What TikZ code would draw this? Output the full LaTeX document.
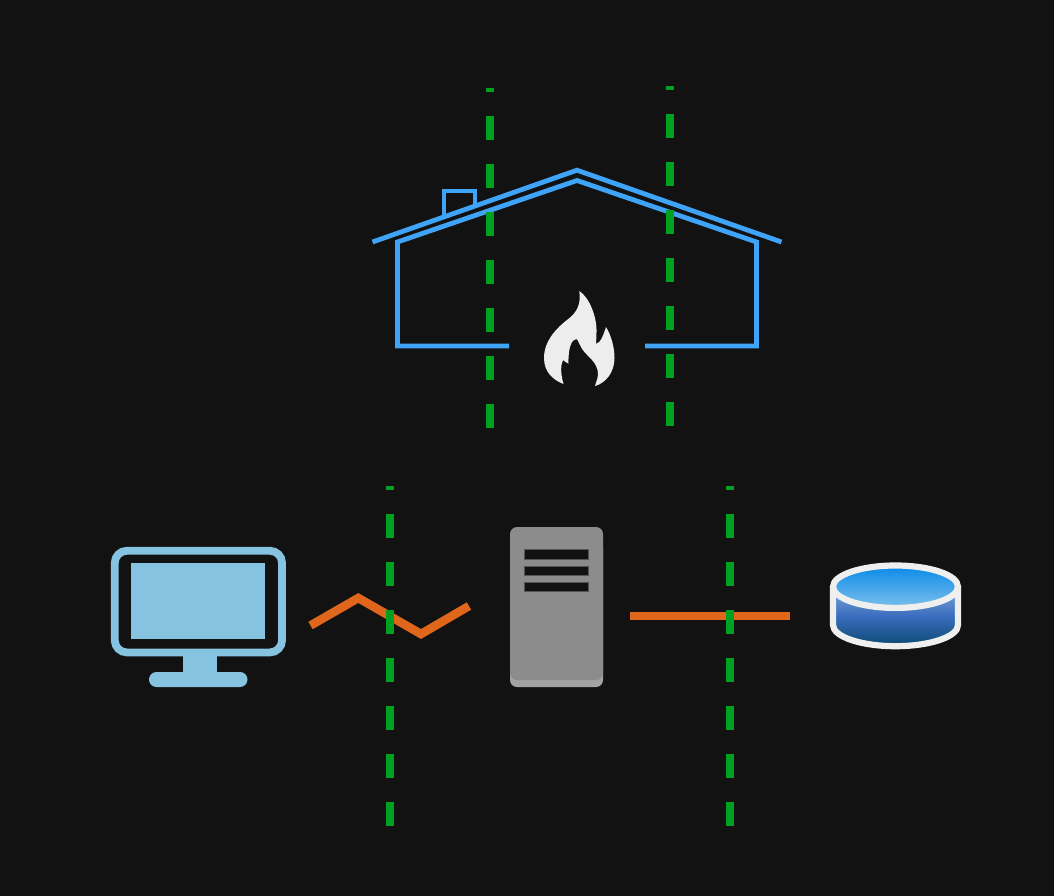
\documentclass[tikz,border=0pt]{standalone}
\definecolor{bgc}{HTML}{121212}
\definecolor{wallc}{HTML}{3FA4F8}
\definecolor{wirec}{HTML}{00A020}
\definecolor{linkc}{HTML}{E0661C}
\definecolor{pcc}{HTML}{85C3E1}
\definecolor{flamec}{HTML}{EDEDED}
\definecolor{srvc}{HTML}{8C8C8C}
\definecolor{srvb}{HTML}{A3A3A3}
\definecolor{dbw}{HTML}{EFEFEF}
\tikzset{
  zone/.style={draw=wirec,line width=8pt,dash pattern=on 24pt off 24pt},
  house/.style={draw=wallc,line width=4.8pt,line join=miter},
  linkline/.style={draw=linkc,line width=8.6pt,line join=miter},
  srvslot/.style={fill=bgc,draw=black!40!srvc,line width=.5pt},
}
\begin{document}
\begin{tikzpicture}[x=1pt,y=-1pt]
\fill[bgc] (0,0) rectangle (1054,896);
\useasboundingbox (0,0) rectangle (1054,896);
% links
\coordinate (l1) at (310.5,625.5);
\coordinate (l2) at (358.3,598);
\coordinate (l3) at (421,634);
\coordinate (l4) at (469,606);
\draw[linkline] (l1) -- (l2) -- (l3) -- (l4);
\coordinate (m1) at (630,616);
\coordinate (m2) at (790,616);
\draw[linkline] (m1) -- (m2);
% house
\draw[house] (509,346) -- (397.5,346) -- (397.5,242) -- (577,180.5) -- (756.5,242) -- (756.5,346) -- (645,346);
\draw[house] (372.5,242) -- (577,170.2) -- (781.5,242);
\draw[house] (444,216.5) -- (444,191) -- (475,191) -- (475,206);
% flame
\fill[flamec] (579.3,291)
  .. controls (590,298) and (597,318) .. (596.5,332)
  .. controls (596.5,338) and (596,342) .. (596,344)
  .. controls (601,343) and (604,333) .. (606,327)
  .. controls (611,335) and (614.5,347) .. (614.5,358)
  .. controls (614.5,372) and (606,383) .. (595,386)
  .. controls (597,379) and (599,376) .. (597.5,370)
  .. controls (595,359) and (584,355) .. (580,345)
  .. controls (578,342) and (578,339) .. (576.5,339)
  .. controls (572,339) and (568,347) .. (568.5,363.5)
  .. controls (566,364) and (566,361) .. (563,360)
  .. controls (561,364) and (560,372) .. (563.5,384)
  .. controls (553,380) and (544,372) .. (544,358)
  .. controls (544,340) and (558,327) .. (567,320)
  .. controls (578,312) and (581,303) .. (579.3,291) -- cycle;
% zone lines
\coordinate (a1) at (490,428); \coordinate (a2) at (490,88);
\coordinate (b1) at (670,426); \coordinate (b2) at (670,86);
\coordinate (c1) at (390,826); \coordinate (c2) at (390,486);
\coordinate (d1) at (730,826); \coordinate (d2) at (730,486);
\draw[zone] (a1) -- (a2);
\draw[zone] (b1) -- (b2);
\draw[zone] (c1) -- (c2);
\draw[zone] (d1) -- (d2);
% monitor
\draw[pcc,line width=7.8pt,rounded corners=12pt] (114.8,550.8) rectangle (282,652.4);
\fill[pcc] (131.3,563) rectangle (264.7,639);
\fill[pcc] (183,655) rectangle (217,673);
\fill[pcc,rounded corners=7.4pt] (149,672) rectangle (247.5,687);
% server
\fill[srvb,rounded corners=7pt] (510,540) rectangle (603,687);
\fill[srvc,rounded corners=7pt] (510,527) rectangle (603,680);
\draw[srvslot] (524.5,549.5) rectangle (588.5,559);
\draw[srvslot] (524.5,566) rectangle (588.5,575.5);
\draw[srvslot] (524.5,582.5) rectangle (588.5,591.5);
% database
\path[top color={rgb,255:red,127;green,168;blue,216},bottom color={rgb,255:red,11;green,74;blue,112},middle color={rgb,255:red,58;green,109;blue,190}]
  (833,586) -- (833,625) arc[start angle=180,end angle=0,x radius=62.5,y radius=21.2] -- (958,586) -- cycle;
\draw[dbw,line width=6.2pt] (833,586.7) -- (833,625) arc[start angle=180,end angle=0,x radius=62.5,y radius=21.2] -- (958,586.7);
\path[top color={rgb,255:red,10;green,138;blue,232},bottom color={rgb,255:red,124;green,192;blue,236},draw=dbw,line width=6.2pt]
  (895.5,586.7) ellipse[x radius=62.5,y radius=21.2];
\end{tikzpicture}
\end{document}
